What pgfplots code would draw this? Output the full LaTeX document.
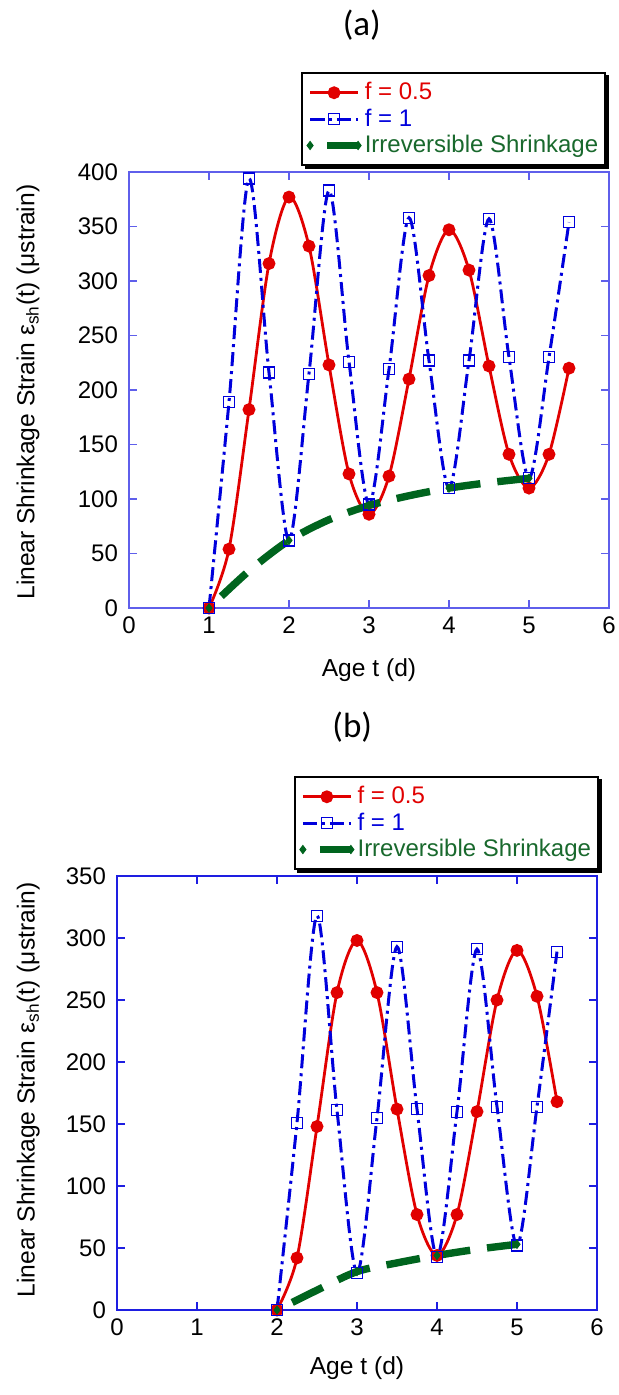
\documentclass[border=0pt]{standalone}
\usepackage{fontspec}
\setmainfont{Liberation Sans}
\newfontfamily\calfont{Carlito}
\usepackage{pgfplots}
\pgfplotsset{compat=1.18}
\pgfdeclarelayer{background}
\pgfsetlayers{background,main}
\definecolor{cred}{RGB}{225,0,0}
\definecolor{cblue}{RGB}{0,0,220}
\definecolor{cgreen}{RGB}{0,100,30}
\definecolor{cgreentext}{RGB}{25,105,45}
\definecolor{axA}{RGB}{95,95,235}
\definecolor{axB}{RGB}{30,30,225}

\pgfplotstableread{
x y
1 0
1.25 54
1.5 182
1.75 316
2 377
2.25 332
2.5 223
2.75 123
3 86
3.25 121
3.5 210
3.75 305
4 347
4.25 310
4.5 222
4.75 141
5 110
5.25 141
5.5 220
}\redA
\pgfplotstableread{
x y
1 0
1.25 189
1.5 394
1.75 216
2 62
2.25 215
2.5 383
2.75 226
3 95
3.25 219
3.5 358
3.75 227
4 110
4.25 227
4.5 357
4.75 230
5 119
5.25 230
5.5 354
}\blueA
\pgfplotstableread{
x y
1 0
1.5 34
2 62
2.5 81
3 94
3.5 103
4 110
4.5 115
5 119
}\greenA
\pgfplotstableread{
x y
2 0
2.25 42
2.5 148
2.75 256
3 298
3.25 256
3.5 162
3.75 77
4 44
4.25 77
4.5 160
4.75 250
5 290
5.25 253
5.5 168
}\redB
\pgfplotstableread{
x y
2 0
2.25 151
2.5 318
2.75 161
3 30
3.25 155
3.5 293
3.75 162
4 43
4.25 160
4.5 291
4.75 164
5 52
5.25 164
5.5 289
}\blueB
\pgfplotstableread{
x y
2 0
2.5 16
3 31
3.5 38
4 44
4.5 49
5 53
}\greenB

\pgfplotsset{
 panel/.style={
  x=40pt, xmin=0, xmax=6, ymin=0,
  xtick={0,...,6},
  axis line style={#1, line width=0.6pt},
  every tick/.style={#1, line width=0.6pt},
  tick align=inside, major tick length=4pt,
  tick label style={font=\fontsize{12}{14}\selectfont, black},
  /pgf/number format/assume math mode=true,
  xticklabel style={yshift=-1pt},
  yticklabel style={xshift=-2pt},
  xlabel={Age t (d)},
  ylabel={Linear Shrinkage Strain ε\textsubscript{sh}(t) (μstrain)},
  label style={font=\fontsize{12.3}{14}\selectfont},
  every axis title shift=0pt,
  title style={anchor=base, font=\calfont\fontsize{17.5}{20}\selectfont},
  clip=false,
  legend cell align=left,
  legend style={draw=black, line width=0.9pt, fill=white,
    font=\fontsize{12}{13}\selectfont, anchor=north east,
    inner xsep=2pt, inner ysep=3.25pt, row sep=0pt, nodes={inner sep=1.5pt}},
  legend image code/.code={\draw[mark repeat=2,mark phase=2,##1] plot coordinates {(0pt,0pt)(12pt,0pt)(24pt,0pt)};},
 },
 redline/.style={cred, line width=1.4pt, smooth, mark=*, mark size=2.5pt, mark options={solid, fill=cred}},
 blueline/.style={cblue, line width=1.5pt, smooth, dash pattern=on 7pt off 2.5pt on 1.5pt off 2.5pt, mark=square, mark size=2.75pt, mark options={solid, line width=0.6pt}},
 greenline/.style={cgreen, line width=3.7pt, smooth, dash pattern=on 17pt off 8.5pt, dash phase=17pt, mark=diamond*, mark size=2pt, mark options={solid, line width=0.5pt, fill=cgreen}, mark indices={1,3,5,7,9}},
}

\begin{document}
\begin{tikzpicture}
\path[use as bounding box] (0,0) rectangle (309pt,-697.5pt);

\begin{axis}[panel=axA,
  at={(64.5pt,-304pt)}, anchor=south west,
  y=0.545pt, ymax=400, ytick={0,50,...,400},
  title={(a)}, title style={at={(axis description cs:0.485,1.314)}},
  xlabel style={at={(axis description cs:0.5,-0.1422)}, anchor=center},
  ylabel style={at={(axis description cs:-0.2104,0.495)}, anchor=center},
  legend style={at={(axis description cs:0.994,1.229)}, name=legA},
]
\addplot[redline] table {\redA};
\addlegendentry{\textcolor{cred}{f = 0.5}}
\addplot[blueline] table {\blueA};
\addlegendentry{\textcolor{cblue}{f = 1}}
\addplot[greenline] table {\greenA};
\addlegendentry{\textcolor{cgreentext}{Irreversible Shrinkage}}
\end{axis}

\begin{axis}[panel=axB,
  at={(58.5pt,-655pt)}, anchor=south west,
  y=0.62pt, ymax=350, ytick={0,50,...,350},
  title={(b)}, title style={at={(axis description cs:0.49,1.320)}},
  xlabel style={at={(axis description cs:0.5,-0.1336)}, anchor=center},
  ylabel style={at={(axis description cs:-0.185,0.507)}, anchor=center},
  legend style={at={(axis description cs:1.004,1.230)}, name=legB},
]
\addplot[redline] table {\redB};
\addlegendentry{\textcolor{cred}{f = 0.5}}
\addplot[blueline] table {\blueB};
\addlegendentry{\textcolor{cblue}{f = 1}}
\addplot[greenline, mark indices={1,3,5,7}] table {\greenB};
\addlegendentry{\textcolor{cgreentext}{Irreversible Shrinkage}}
\end{axis}

\begin{pgfonlayer}{background}
\fill[black] ([shift={(1.6pt,-1.6pt)}]legA.south west) rectangle ([shift={(1.6pt,-1.6pt)}]legA.north east);
\fill[black] ([shift={(1.6pt,-1.6pt)}]legB.south west) rectangle ([shift={(1.6pt,-1.6pt)}]legB.north east);
\end{pgfonlayer}
\end{tikzpicture}
\end{document}
